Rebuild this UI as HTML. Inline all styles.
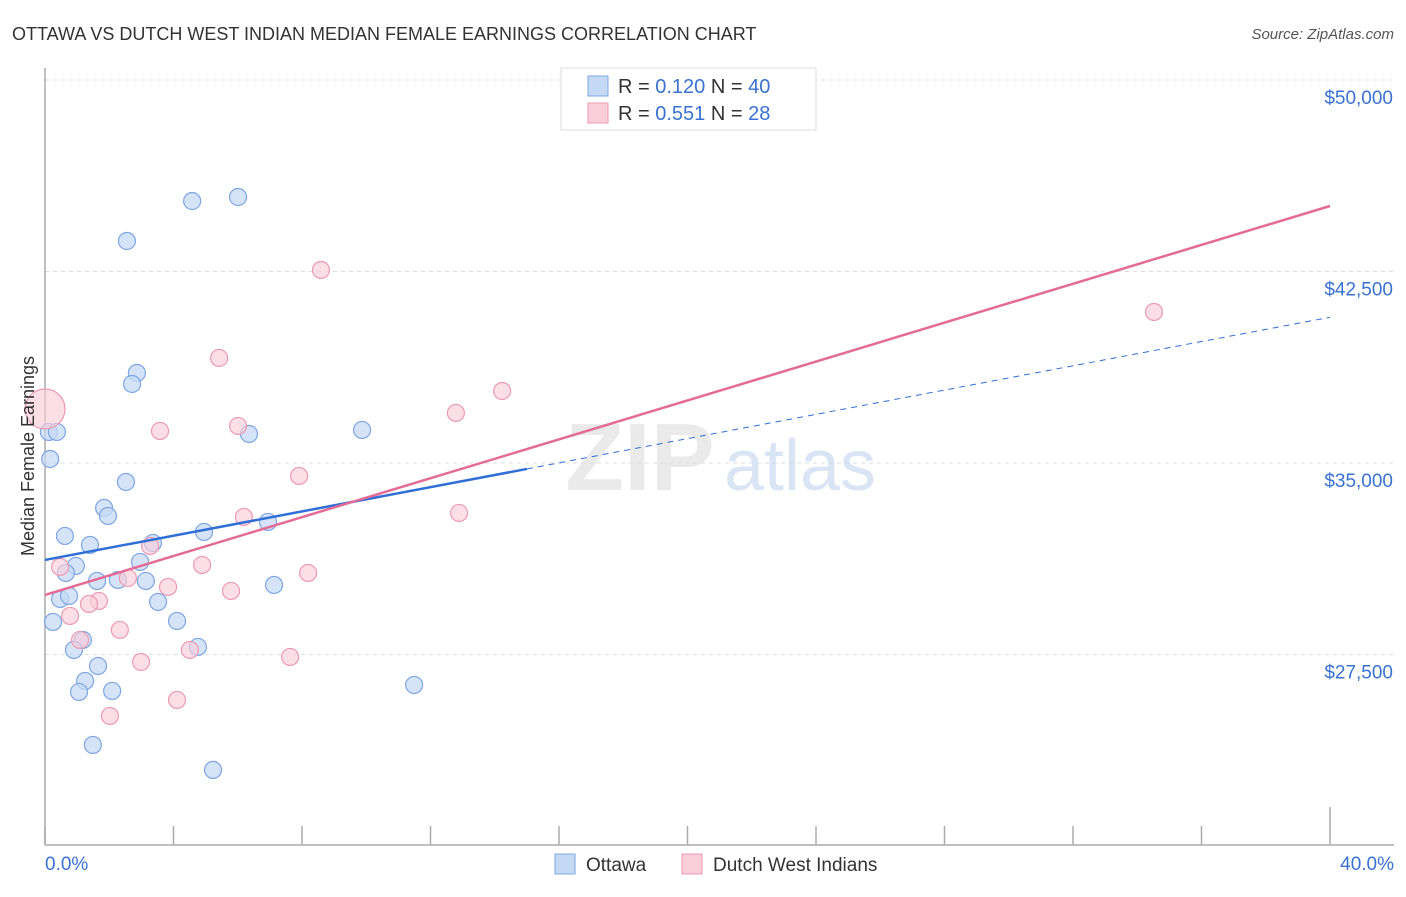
<!DOCTYPE html>
<html><head><meta charset="utf-8"><style>
body{margin:0;background:#fff;font-family:"Liberation Sans",sans-serif}
svg text{font-family:"Liberation Sans",sans-serif}
</style></head><body>
<svg width="1406" height="892" viewBox="0 0 1406 892" xmlns="http://www.w3.org/2000/svg">
<text x="12" y="40" font-size="18" fill="#333">OTTAWA VS DUTCH WEST INDIAN MEDIAN FEMALE EARNINGS CORRELATION CHART</text>
<text x="1394" y="39" font-size="15" fill="#555" text-anchor="end" font-style="italic">Source: ZipAtlas.com</text>
<g id="grid"></g>
<g id="axes"></g>
<text x="640" y="490" font-size="96" fill="#ddd" font-family="Liberation Serif" text-anchor="middle" font-weight="bold" opacity="0.6">ZIP</text>
<text x="800" y="490" font-size="72" fill="#c9daf2" text-anchor="middle" opacity="0.7">atlas</text>
<g id="pts"></g>
<g id="trends"></g>
<text transform="translate(34,456) rotate(-90)" font-size="18" fill="#333" text-anchor="middle">Median Female Earnings</text>
<g>
<rect x="561" y="68" width="255" height="62" fill="#fff" stroke="#ddd"/>
<rect x="588" y="76" width="20" height="20" fill="#c5d9f5" stroke="#7da6e3"/>
<rect x="588" y="103" width="20" height="20" fill="#f9cdd9" stroke="#ec9ab3"/>
<text x="618" y="93" font-size="20" fill="#333">R = <tspan fill="#3a72d1">0.120</tspan>   N = <tspan fill="#3a72d1">40</tspan></text>
<text x="618" y="120" font-size="20" fill="#333">R = <tspan fill="#3a72d1">0.551</tspan>   N =  <tspan fill="#3a72d1">28</tspan></text>
</g>
<g>
<rect x="555" y="854" width="20" height="20" fill="#c5d9f5" stroke="#7da6e3"/>
<text x="586" y="871" font-size="19" fill="#333">Ottawa</text>
<rect x="682" y="854" width="20" height="20" fill="#f9cdd9" stroke="#ec9ab3"/>
<text x="713" y="871" font-size="19" fill="#333">Dutch West Indians</text>
</g>
</svg>
<script>
const yTicks=[50000,42500,35000,27500];
const yTickLabels=["$50,000","$42,500","$35,000","$27,500"];
const xTickLabels=["0.0%","40.0%"];
const ottawaX=[4.58,6.01,2.55,2.86,2.71,0.12,0.37,0.16,6.35,9.87,2.52,1.84,1.96,0.62,6.94,4.95,1.40,3.36,2.96,0.96,0.65,1.62,2.27,3.14,7.13,0.47,0.75,3.52,0.25,4.11,1.18,0.90,4.76,1.65,1.25,1.06,2.09,11.49,1.49,5.23];
const ottawaY=[45262,45418,43695,38526,38095,36216,36216,35158,36137,36294,34258,33240,32926,32143,32691,32300,31791,31869,31125,30968,30694,30381,30420,30381,30224,29676,29794,29559,28775,28814,28070,27679,27796,27052,26465,26034,26073,26308,23959,22980];
const dutchX=[8.59,34.52,5.42,14.23,12.79,6.01,3.58,7.91,12.89,6.19,3.27,0.47,4.89,8.19,2.58,3.83,5.79,1.68,1.37,0.78,2.33,1.09,4.51,7.63,2.99,4.11,2.02,0];
const dutchY=[42560,40915,39114,37821,36960,36451,36255,34493,33044,32887,31751,30929,31007,30694,30498,30146,29989,29598,29480,29010,28462,28070,27679,27405,27209,25721,25094,37116];
const ottawaTrend=[31203,237.6]; // intercept, slope per %
const dutchTrend=[29833,380.8];
const NS="http://www.w3.org/2000/svg";
const X=p=>45+p/40*1285;
const Y=v=>80+(50000-v)*191.5/7500;
function mk(t,a,parent){const e=document.createElementNS(NS,t);for(const k in a)e.setAttribute(k,a[k]);parent.appendChild(e);return e;}
const grid=document.getElementById('grid'),axes=document.getElementById('axes'),pts=document.getElementById('pts'),tr=document.getElementById('trends');
yTicks.forEach((v,i)=>{
 const l=mk('line',{x1:45,x2:1394,y1:Y(v),y2:Y(v),stroke:'#ddd','stroke-dasharray':'4,4'},grid);
 
 
 const t=mk('text',{x:1393,y:Y(v)+24,'font-size':19,fill:'#3a72d1','text-anchor':'end'},grid);
 t.textContent=yTickLabels[i];
 
 
});
mk('line',{x1:45,x2:45,y1:68,y2:845,stroke:'#aaa','stroke-width':1.5},axes);
mk('line',{x1:45,x2:1394,y1:845,y2:845,stroke:'#aaa','stroke-width':1.5},axes);
for(let i=0;i<=10;i++){const p=i*4;mk('line',{x1:X(p),x2:X(p),y1:(i==10?807:826),y2:845,stroke:'#aaa','stroke-width':1.5},axes);}
[[0,'start'],[40,'end']].forEach((d,i)=>{const t=mk('text',{x:i?1394:45,y:870,'font-size':19,fill:'#3a72d1','text-anchor':d[1]},axes);t.textContent=xTickLabels[i];
 
 });
ottawaX.forEach((x,i)=>{const c=mk('circle',{cx:X(x),cy:Y(ottawaY[i]),r:8.5,fill:'#c5d9f5','fill-opacity':0.75,stroke:'#7da6e3','stroke-width':1.2},pts);
 
 });
dutchX.forEach((x,i)=>{const big=(i==dutchX.length-1);const c=mk('circle',{cx:X(x),cy:Y(dutchY[i]),r:big?20:8.5,fill:'#f9cdd9','fill-opacity':0.65,stroke:'#ec9ab3','stroke-width':1.2},pts);
 
 });
const ob=p=>ottawaTrend[0]+ottawaTrend[1]*p, db=p=>dutchTrend[0]+dutchTrend[1]*p;
let l=mk('line',{x1:X(0),y1:Y(ob(0)),x2:X(15),y2:Y(ob(15)),stroke:'#2f6fd6','stroke-width':2.5},tr);


l=mk('line',{x1:X(15),y1:Y(ob(15)),x2:X(40),y2:Y(ob(40)),stroke:'#2f6fd6','stroke-width':1,'stroke-dasharray':'6,5'},tr);


l=mk('line',{x1:X(0),y1:Y(db(0)),x2:X(40),y2:Y(db(40)),stroke:'#e46b95','stroke-width':2.5},tr);


</script>
</body></html>
